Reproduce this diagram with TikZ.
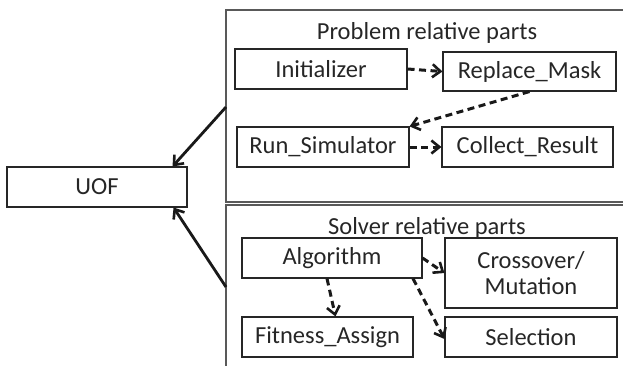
\documentclass[tikz,border=0pt]{standalone}
\usepackage{fontspec}
\setmainfont{Carlito}
\usetikzlibrary{arrows.meta}
\begin{document}
\begin{tikzpicture}[x=1pt,y=-1pt,
  box/.style={draw=black!85,line width=1.1pt,inner sep=0pt},
  group/.style={draw=black!65,line width=1.2pt},
  lbl/.style={font=\fontsize{24.5}{28}\selectfont,text=black!85},
  darr/.style={line width=3pt,dash pattern=on 7pt off 4.5pt,draw=black!90,-{Straight Barb[length=8pt,width=13pt,line width=2.6pt]}},
  sarr/.style={line width=2.8pt,draw=black!90,-{Straight Barb[length=8pt,width=13pt,line width=2.6pt]}}]
\useasboundingbox (0,0) rectangle (623,365);
% group frames
\draw[group] (630,10) -- (226,10) -- (226,202) -- (630,202);
\draw[group] (630,205) -- (226,205) -- (226,370);
\coordinate (p1) at (226,107);
\coordinate (p2) at (226,287);
% titles
\node[lbl] (t1) at (427,33) {Problem relative parts};
\node[lbl] (t2) at (427,228) {Solver relative parts};
% boxes
\node[box,lbl,minimum width=172pt,minimum height=40pt] (ini) at (321,69) {Initializer};
\node[box,lbl,minimum width=173pt,minimum height=39pt] (rep) at (529.5,71.5) {Replace\_Mask};
\node[box,lbl,minimum width=172pt,minimum height=40pt] (run) at (323,147) {Run\_Simulator};
\node[box,lbl,minimum width=171pt,minimum height=40pt] (col) at (527.5,147) {Collect\_Result};
\node[box,lbl,minimum width=180pt,minimum height=40pt] (alg) at (332,258) {Algorithm};
\node[box,lbl,minimum width=172pt,minimum height=70pt,align=center] (cro) at (531,273) {Crossover/\\[-2pt]Mutation};
\node[box,lbl,minimum width=171pt,minimum height=40pt] (fit) at (327.5,337) {Fitness\_Assign};
\node[box,lbl,minimum width=172pt,minimum height=40pt] (sel) at (531,337) {Selection};
\node[box,lbl,minimum width=180pt,minimum height=40pt] (uof) at (97,187) {UOF};
% arrows
\draw[darr] (ini.east) -- (rep.west);
\draw[darr] (rep.south) -- (run.north east);
\draw[darr] (run.east) -- (col.west);
\draw[darr] (alg.east) -- (cro.west);
\draw[darr] ([xshift=-5pt]alg.south) -- ([xshift=8pt]fit.north);
\draw[darr] ([xshift=81pt]alg.south) -- ([yshift=-2pt]sel.west);
\draw[sarr] (p1) -- ([xshift=-15pt]uof.north east);
\draw[sarr] (p2) -- ([xshift=-14pt]uof.south east);
\end{tikzpicture}
\end{document}
